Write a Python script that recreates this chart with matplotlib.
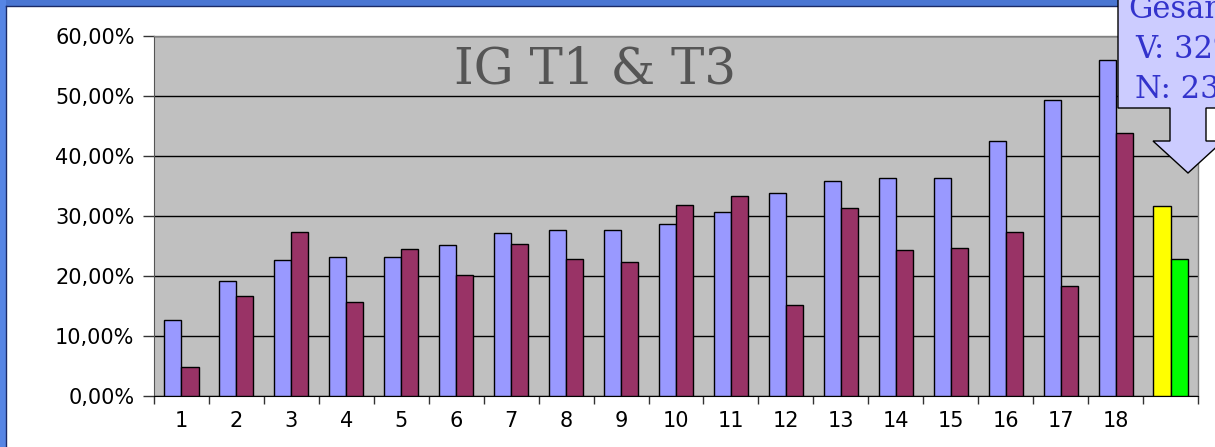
import numpy as np
import matplotlib
matplotlib.use("Agg")
import matplotlib.pyplot as plt
from matplotlib.patches import Polygon, Rectangle

# values (percent)
categories = [str(i) for i in range(1, 19)] + [""]
t1_values = [12.6, 19.1, 22.6, 23.1, 23.1, 25.2, 27.1, 27.7, 27.7, 28.7,
             30.6, 33.8, 35.9, 36.4, 36.4, 42.5, 49.3, 56.0]
t3_values = [4.9, 16.7, 27.3, 15.6, 24.5, 20.2, 25.4, 22.8, 22.3, 31.9,
             33.3, 15.1, 31.4, 24.3, 24.7, 27.3, 18.4, 43.9]
total_v = 31.7
total_n = 22.8
callout_lines = ["Gesamt", "V: 32%", "N: 23%"]
yticks = [0, 10, 20, 30, 40, 50, 60]

W, H = 1215, 447
fig = plt.figure(figsize=(W / 100, H / 100), dpi=100)
fig.patch.set_facecolor("white")

def fx(px):
    return px / W

def fy(py):
    return 1 - py / H

ax = fig.add_axes([fx(154), fy(396), fx(1198) - fx(154), fy(36) - fy(396)])
ax.set_facecolor("#c0c0c0")

x = np.arange(len(categories))
bw = 0.31
ax.bar(x[:18] - bw / 2, t1_values, bw, color="#9999ff", edgecolor="black", linewidth=1, zorder=3)
ax.bar(x[:18] + bw / 2, t3_values, bw, color="#993366", edgecolor="black", linewidth=1, zorder=3)
ax.bar(x[18] - bw / 2, total_v, bw, color="#ffff00", edgecolor="black", linewidth=1, zorder=3)
ax.bar(x[18] + bw / 2, total_n, bw, color="#00ff00", edgecolor="black", linewidth=1, zorder=3)

ax.set_xlim(-0.5, len(categories) - 0.5)
ax.set_ylim(0, 60)
ax.set_yticks(yticks)
ax.set_yticklabels([f"{v},00%" for v in yticks])
ax.set_xticks(np.arange(len(categories) + 1) - 0.5)
ax.set_xticklabels([])
ax.set_xticks(x, minor=True)
ax.set_xticklabels(categories, minor=True)
ax.tick_params(axis="x", which="major", length=6, width=1, color="#333333", direction="out")
ax.tick_params(axis="x", which="minor", length=0, pad=11, labelsize=15)
ax.tick_params(axis="y", length=8, width=1, color="#333333", pad=6, labelsize=15)
for lab in ax.get_xticklabels(minor=True) + ax.get_yticklabels():
    lab.set_fontfamily("DejaVu Sans")
    lab.set_color("black")

ax.grid(axis="y", color="black", linewidth=1, zorder=1)
ax.set_axisbelow(True)
for side in ["top", "right"]:
    ax.spines[side].set_color("#808080")
    ax.spines[side].set_linewidth(1)
ax.spines["left"].set_color("#555555")
ax.spines["bottom"].set_color("black")

ax.text(0.422, 0.869, "IG T1 & T3", transform=ax.transAxes, ha="center", va="baseline",
        fontsize=36, family="DejaVu Serif", color="#555555", zorder=5)

# blue slide frame on top and left
fig.patches.append(Rectangle((0, fy(6)), 1, 1 - fy(6), transform=fig.transFigure,
                             facecolor="#4a76d2", edgecolor="none", zorder=0))
fig.patches.append(Rectangle((0, 0), fx(6), 1, transform=fig.transFigure,
                             facecolor="#5685e4", edgecolor="none", zorder=0))
fig.lines.append(plt.Line2D([fx(6), 1], [fy(6), fy(6)], transform=fig.transFigure,
                            color="#1a2a66", linewidth=1))
fig.lines.append(plt.Line2D([fx(6), fx(6)], [0, fy(6)], transform=fig.transFigure,
                            color="#1a2a66", linewidth=1))

# down-arrow callout (runs off the right edge, as in the source slide)
shape = [(1118, -5), (1118, 108), (1170, 108), (1170, 141), (1153, 141), (1188, 173),
         (1223, 141), (1206, 141), (1206, 108), (1270, 108), (1270, -5)]
callout = Polygon([(fx(a), fy(b)) for a, b in shape], closed=True, transform=fig.transFigure,
                  facecolor="#ccccff", edgecolor="black", linewidth=1, zorder=10)
fig.patches.append(callout)
for i, line in enumerate(callout_lines):
    fig.text(fx(1128 if i == 0 else 1135), fy(18 + 40 * i), line, ha="left", va="baseline",
             fontsize=22, family="DejaVu Serif", color="#3333cc", zorder=11)

fig.savefig("out.png", dpi=100)
